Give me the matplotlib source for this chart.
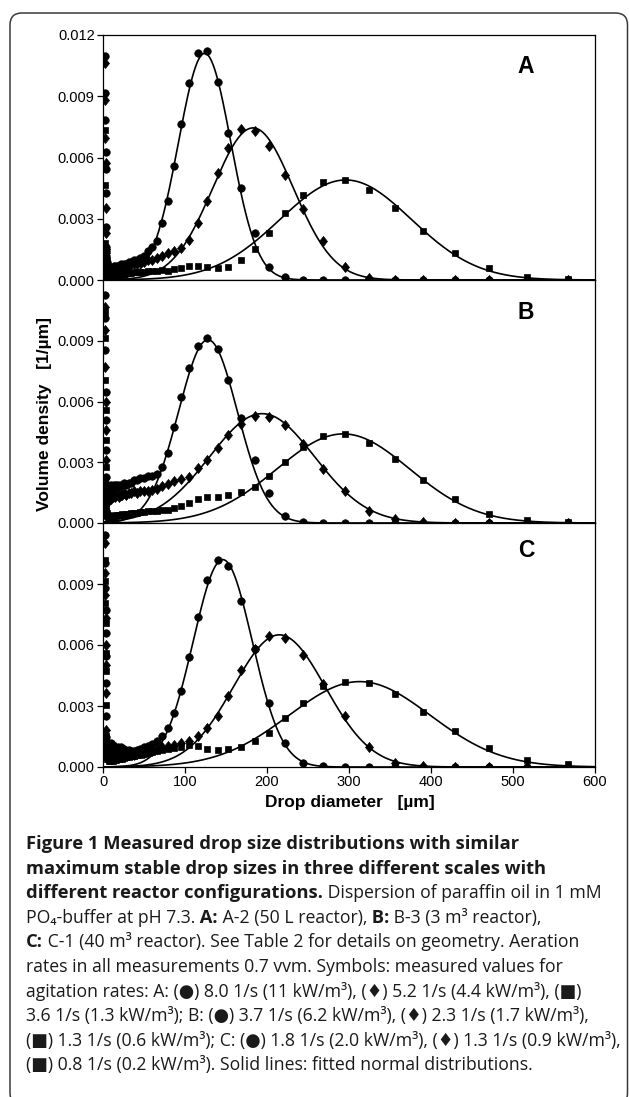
import numpy as np
import matplotlib
matplotlib.use("Agg")
import matplotlib.pyplot as plt
from matplotlib.patches import FancyBboxPatch
from matplotlib.transforms import IdentityTransform

W, H = 629, 1097
plt.rcParams['font.family'] = ['Liberation Sans', 'DejaVu Sans']

# size classes of the drop size analysis [um]
bins = [2.8, 2.9, 3.0, 3.1, 3.2, 3.3, 3.4, 3.5, 3.6, 3.8,
        4.0, 4.2, 4.4, 4.6, 4.8, 5.0, 5.3, 5.6, 6.4, 7.0,
        7.7, 8.5, 9.3, 10.2, 11.2, 12.3, 13.5, 14.8, 16.3, 17.9,
        19.6, 21.5, 23.6, 25.9, 28.5, 31.3, 34.4, 37.8, 41.5, 45.5,
        50, 55, 60, 66, 72, 79, 87, 95, 105, 116,
        127, 140, 153, 168, 185, 202, 222, 244, 268, 295,
        324, 356, 390, 429, 471, 517, 567]

# measured volume densities [1e-3 1/um]
a_circle = [10.97, 9.14, 7.84, 6.29, 5.42, 4.24, 2.61, 1.6, 1.2, 1.4,
            1.0, 1.1, 0.8, 0.9, 0.7, 0.8, 0.6, 0.7, 0.6, 0.5,
            0.6, 0.5, 0.6, 0.6, 0.5, 0.6, 0.7, 0.6, 0.7, 0.7,
            0.7, 0.8, 0.7, 0.8, 0.8, 0.9, 0.9, 1.0, 1.0, 1.1,
            1.2, 1.4, 1.6, 1.9, 2.78, 3.87, 5.58, 7.63, 9.66, 11.13,
            11.23, 9.71, 7.18, 4.49, 2.29, 0.65, 0.13, 0.02, 0.0, 0.0,
            0.0, 0.0, 0.0, 0.0, 0.0, 0.0, 0.0]
a_diamond = [10.61, 8.82, 6.94, 5.71, 3.51, 2.29, 1.5, 1.1, 1.3, 0.9,
             0.8, 0.6, 0.7, 0.5, 0.6, 0.5, 0.4, 0.5, 0.4, 0.4,
             0.5, 0.4, 0.4, 0.5, 0.4, 0.5, 0.5, 0.5, 0.6, 0.5,
             0.6, 0.6, 0.6, 0.7, 0.7, 0.7, 0.8, 0.8, 0.8, 0.9,
             0.9, 1.0, 1.0, 1.1, 1.2, 1.3, 1.4, 1.55, 1.96, 2.78,
             3.88, 5.22, 6.45, 7.38, 7.30, 6.56, 5.14, 3.50, 1.90, 0.65,
             0.11, 0.02, 0.0, 0.0, 0.0, 0.0, 0.0]
a_square = [7.35, 4.65, 1.80, 1.2, 0.8, 0.6, 0.5, 0.4, 0.3, 0.35,
            0.3, 0.25, 0.3, 0.2, 0.25, 0.2, 0.2, 0.15, 0.2, 0.15,
            0.2, 0.15, 0.2, 0.2, 0.2, 0.25, 0.2, 0.25, 0.25, 0.3,
            0.3, 0.3, 0.3, 0.3, 0.35, 0.35, 0.35, 0.4, 0.4, 0.4,
            0.4, 0.45, 0.45, 0.45, 0.5, 0.46, 0.52, 0.59, 0.69, 0.69,
            0.62, 0.60, 0.65, 0.98, 1.50, 2.32, 3.30, 4.18, 4.78, 4.91,
            4.41, 3.51, 2.41, 1.34, 0.57, 0.16, 0.05]

b_circle = [11.26, 10.11, 8.54, 6.48, 5.09, 3.60, 2.29, 1.9, 1.6, 1.5,
            1.4, 1.6, 1.5, 1.7, 1.6, 1.5, 1.7, 1.6, 1.8, 1.7,
            1.6, 1.8, 1.7, 1.9, 1.8, 1.8, 1.9, 1.8, 1.9, 1.9,
            1.8, 1.9, 1.9, 2.0, 1.9, 2.0, 2.0, 2.1, 2.1, 2.2,
            2.2, 2.3, 2.3, 2.4, 2.78, 3.44, 4.76, 6.21, 7.67, 8.76,
            9.15, 8.58, 7.06, 5.17, 3.11, 1.47, 0.35, 0.06, 0.01, 0.0,
            0.0, 0.0, 0.0, 0.0, 0.0, 0.0, 0.0]
b_diamond = [10.68, 9.53, 7.71, 5.99, 4.59, 3.11, 2.0, 1.7, 1.3, 1.2,
             1.1, 1.0, 1.2, 1.1, 1.0, 1.2, 1.1, 1.2, 1.1, 1.3,
             1.2, 1.2, 1.3, 1.2, 1.3, 1.3, 1.4, 1.3, 1.4, 1.4,
             1.3, 1.4, 1.4, 1.5, 1.4, 1.5, 1.5, 1.6, 1.5, 1.6,
             1.6, 1.6, 1.65, 1.7, 1.85, 1.95, 2.05, 2.16, 2.29, 2.70,
             3.11, 3.69, 4.35, 4.87, 5.28, 5.25, 4.84, 3.88, 2.68, 1.56,
             0.61, 0.18, 0.05, 0.01, 0.0, 0.0, 0.0]
b_square = [10.43, 9.12, 7.06, 5.58, 4.10, 2.78, 1.5, 1.0, 0.8, 0.6,
            0.5, 0.6, 0.4, 0.5, 0.4, 0.4, 0.35, 0.4, 0.3, 0.35,
            0.3, 0.35, 0.3, 0.35, 0.3, 0.35, 0.35, 0.4, 0.35, 0.4,
            0.4, 0.4, 0.45, 0.4, 0.45, 0.45, 0.5, 0.5, 0.5, 0.55,
            0.55, 0.6, 0.6, 0.6, 0.62, 0.64, 0.73, 0.84, 1.00, 1.17,
            1.30, 1.30, 1.38, 1.55, 1.79, 2.32, 3.03, 3.77, 4.28, 4.39,
            3.97, 3.16, 2.12, 1.17, 0.44, 0.15, 0.06]

c_circle = [11.42, 10.03, 8.80, 7.74, 6.59, 5.44, 4.13, 2.49, 1.5, 1.2,
            1.1, 1.2, 1.0, 1.1, 1.2, 1.1, 1.0, 1.1, 1.2, 1.1,
            1.0, 1.1, 1.2, 1.1, 1.0, 1.1, 1.0, 1.0, 0.9, 1.0,
            0.9, 1.0, 0.9, 0.9, 0.8, 0.85, 0.8, 0.8, 0.85, 0.9,
            1.0, 1.05, 1.15, 1.26, 1.51, 1.92, 2.66, 3.75, 5.41, 7.38,
            9.21, 10.20, 9.87, 8.18, 5.80, 3.15, 1.18, 0.20, 0.05, 0.0,
            0.0, 0.0, 0.0, 0.0, 0.0, 0.0, 0.0]
c_diamond = [11.02, 9.54, 8.47, 7.33, 6.02, 5.03, 3.64, 1.83, 1.3, 1.0,
             0.9, 1.0, 0.8, 0.9, 0.8, 0.9, 0.8, 0.7, 0.8, 0.7,
             0.8, 0.7, 0.8, 0.7, 0.7, 0.8, 0.7, 0.7, 0.7, 0.6,
             0.7, 0.6, 0.7, 0.6, 0.6, 0.6, 0.65, 0.6, 0.65, 0.7,
             0.7, 0.75, 0.8, 0.9, 1.0, 1.05, 1.1, 1.2, 1.26, 1.51,
             1.9, 2.52, 3.51, 4.79, 5.80, 6.43, 6.36, 5.52, 4.06, 2.50,
             0.97, 0.18, 0.05, 0.01, 0.0, 0.0, 0.0]
c_square = [10.2, 9.13, 8.07, 7.08, 5.61, 4.71, 3.06, 1.51, 1.0, 0.8,
            0.7, 0.6, 0.5, 0.6, 0.5, 0.4, 0.5, 0.4, 0.4, 0.3,
            0.4, 0.3, 0.35, 0.3, 0.35, 0.3, 0.35, 0.4, 0.35, 0.4,
            0.4, 0.45, 0.4, 0.45, 0.5, 0.5, 0.55, 0.55, 0.6, 0.6,
            0.65, 0.7, 0.75, 0.8, 0.85, 0.9, 0.95, 1.0, 1.10, 1.05,
            0.89, 0.85, 0.89, 0.98, 1.26, 1.67, 2.40, 3.13, 3.96, 4.20,
            4.12, 3.58, 2.72, 1.77, 0.92, 0.34, 0.15]

# fitted normal distributions: (centre [um], std [um], peak [1e-3 1/um])
a_fits = [(124, 32, 11.1), (183, 49, 7.45), (296, 80, 4.9)]
b_fits = [(128, 36, 9.05), (194, 64, 5.4), (293, 81, 4.4)]
c_fits = [(146, 36, 10.2), (215, 56, 6.5), (313, 86, 4.2)]

panel_names = ['A', 'B', 'C']
y_ticks = [0.0, 0.003, 0.006, 0.009, 0.012]
x_ticks = [0, 100, 200, 300, 400, 500, 600]

panels = [
    ([a_circle, a_diamond, a_square], a_fits),
    ([b_circle, b_diamond, b_square], b_fits),
    ([c_circle, c_diamond, c_square], c_fits),
]
# slightly narrow diamond, like the printed symbol
diamond = [(0, 1), (0.8, 0), (0, -1), (-0.8, 0), (0, 1)]
markers = [('o', 5.4), (diamond, 7.2), ('s', 4.7)]

fig = plt.figure(figsize=(W / 100, H / 100), dpi=100)

# outer rounded frame
frame = FancyBboxPatch((10, -8), 617.5, H - 13 + 8,
                       boxstyle="round,pad=0,rounding_size=12",
                       transform=IdentityTransform(), fill=False,
                       ec='#3a3a3a', lw=1.1)
fig.patches.append(frame)

ax_left, ax_right = 103, 595
ax_tops = [35, 280, 523]
ax_bots = [280, 523, 767]
label_y = [0.873, 0.868, 0.889]

xs = np.linspace(0, 600, 601)
for i, (series, fits) in enumerate(panels):
    ax = fig.add_axes([ax_left / W, 1 - ax_bots[i] / H,
                       (ax_right - ax_left) / W, (ax_bots[i] - ax_tops[i]) / H])
    for vals, (mk, ms) in zip(series, markers):
        ax.plot(bins, np.array(vals) * 1e-3, ls='none', marker=mk, ms=ms,
                color='black', mec='black', mew=0.5)
    for mu, sd, peak in fits:
        ax.plot(xs, peak * 1e-3 * np.exp(-0.5 * ((xs - mu) / sd) ** 2),
                color='black', lw=1.2)
    ax.set_xlim(0, 600)
    ax.set_ylim(0, 0.012)
    ticks = y_ticks if i == 0 else y_ticks[:-1]
    ax.set_yticks(ticks)
    ax.set_yticklabels(['%.3f' % t for t in ticks])
    if i == 2:
        ax.set_xticks(x_ticks)
        ax.set_xticklabels([str(t) for t in x_ticks])
    else:
        ax.set_xticks([])
    ax.tick_params(direction='out', length=4.5, width=0.9, pad=1.5,
                   labelsize=10.5, colors='black')
    for sp in ax.spines.values():
        sp.set_linewidth(0.9)
    ax.text(0.86, label_y[i], panel_names[i], transform=ax.transAxes,
            ha='center', va='center', fontsize=16.5, fontweight='bold')

fig.text(45 / W, 1 - 414 / H, 'Volume density   [1/µm]', rotation=90,
         ha='center', va='center', fontsize=12.5, fontweight='bold')
fig.text(350 / W, 1 - 803 / H, 'Drop diameter   [µm]',
         ha='center', va='center', fontsize=12.5, fontweight='bold')

# caption, laid out segment by segment (bold / regular)
cap_font = ['Open Sans', 'DejaVu Sans']
caption = [
    [("Figure 1 Measured drop size distributions with similar", True)],
    [("maximum stable drop sizes in three different scales with", True)],
    [("different reactor configurations.", True),
     (" Dispersion of paraffin oil in 1 mM", False)],
    [("PO₄-buffer at pH 7.3.", False), (" A:", True),
     (" A-2 (50 L reactor),", False), (" B:", True),
     (" B-3 (3 m³ reactor),", False)],
    [("C:", True),
     (" C-1 (40 m³ reactor). See Table 2 for details on geometry. Aeration", False)],
    [("rates in all measurements 0.7 vvm. Symbols: measured values for", False)],
    [("agitation rates: A: (●) 8.0 1/s (11 kW/m³), (♦) 5.2 1/s (4.4 kW/m³), (■)", False)],
    [("3.6 1/s (1.3 kW/m³); B: (●) 3.7 1/s (6.2 kW/m³), (♦) 2.3 1/s (1.7 kW/m³),", False)],
    [("(■) 1.3 1/s (0.6 kW/m³); C: (●) 1.8 1/s (2.0 kW/m³), (♦) 1.3 1/s (0.9 kW/m³),", False)],
    [("(■) 0.8 1/s (0.2 kW/m³). Solid lines: fitted normal distributions.", False)],
]

fig.canvas.draw()
renderer = fig.canvas.get_renderer()


def text_width(s, size, weight):
    probe = fig.text(0, 0, s, fontsize=size, fontweight=weight, family=cap_font)
    w = probe.get_window_extent(renderer).width
    probe.remove()
    return w


# regular and bold sizes chosen so the line lengths come out as printed
reg_size = 12 * 534 / text_width(caption[5][0][0], 12, 'normal')
bold_size = 12 * 491 / text_width(caption[0][0][0], 12, 'bold')

cap_x0 = 26
first_base = 849
line_step = 24.6
for n, segs in enumerate(caption):
    x = cap_x0
    yb = first_base + n * line_step
    for txt, bold in segs:
        t = fig.text(x / W, 1 - yb / H, txt,
                     fontsize=bold_size if bold else reg_size,
                     fontweight='bold' if bold else 'normal',
                     family=cap_font, ha='left', va='baseline',
                     color='#1a1a1a')
        x += t.get_window_extent(renderer).width

fig.savefig('out.png', dpi=100)
